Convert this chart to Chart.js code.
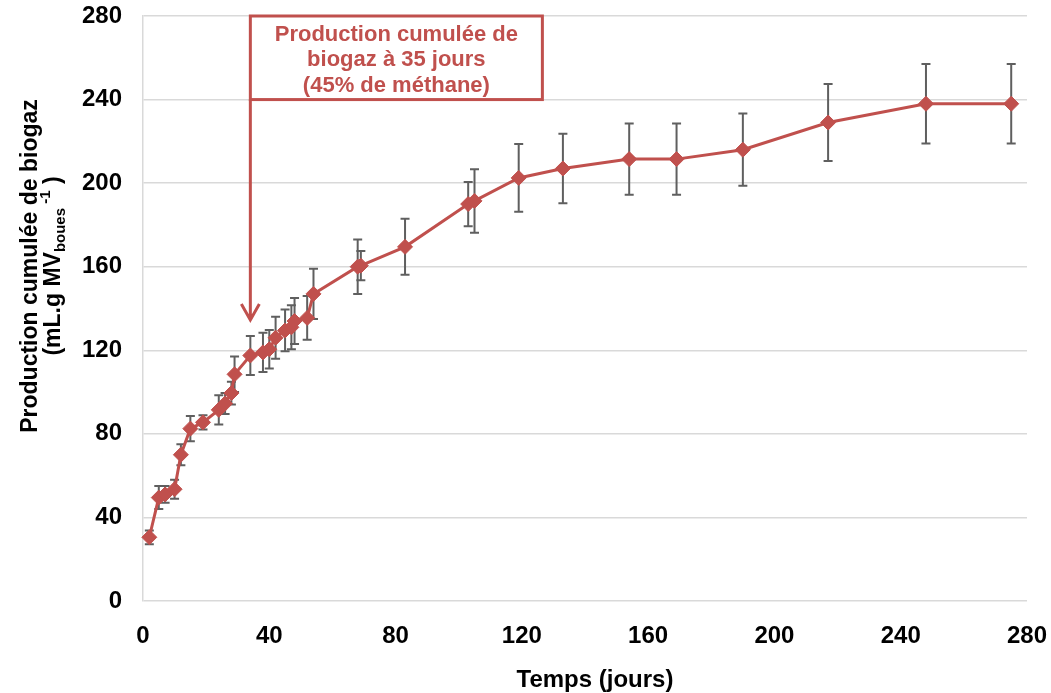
<!DOCTYPE html>
<html>
<head>
<meta charset="utf-8">
<script src="https://cdn.jsdelivr.net/npm/chart.js@4.4.1/dist/chart.umd.min.js"></script>
<style>
html,body{margin:0;padding:0;background:#fff;}
</style>
</head>
<body>
<canvas id="biogazChart" width="1051" height="693"></canvas>
<script>
// jours de mesure, production cumulée (mL/g MV) et écart-type
const days   = [2, 5, 7, 10, 12, 15, 19, 24, 26, 28, 29, 34, 38, 40, 42, 45, 47, 48, 52, 54, 68, 69, 83, 103, 105, 119, 133, 154, 169, 190, 217, 248, 275];
const biogaz = [30.5, 49.5, 51, 53.5, 70, 82.5, 85.5, 91.5, 94.5, 99.5, 108.5, 117.5, 119, 120.5, 126, 129.5, 131, 134, 135.5, 147, 160, 160.5, 169.5, 190, 191.5, 202.5, 207, 211.5, 211.5, 216, 229, 238, 238];
const ecart  = [3.3, 5.5, 4, 4.5, 5, 6, 3.4, 7, 5, 5.5, 8.5, 9.3, 9.4, 9.2, 10, 10, 10.5, 11, 10.5, 12, 13, 7, 13.4, 10.6, 15.2, 16.2, 16.6, 17, 17, 17.3, 18.4, 19, 19];

const xTicks = [0, 40, 80, 120, 160, 200, 240, 280];
const yTicks = [0, 40, 80, 120, 160, 200, 240, 280];

// encadré : jour 35
const noteLines = ["Production cumulée de", "biogaz à 35 jours", "(45% de méthane)"];
const noteBox = {left: 34, right: 126.5, top: 280, bottom: 240, arrowTo: 134.5};

const RED = "#c0504d";
const FONT = "'Liberation Sans', Arial, sans-serif";

const errorBars = {
    id: "errorBars",
    beforeDatasetsDraw(chart){
        const {ctx, scales:{x, y}} = chart;
        ctx.save();
        ctx.strokeStyle = "#5f5f5f";
        ctx.lineWidth = 2;
        days.forEach((d,i)=>{
            const px = x.getPixelForValue(d);
            const top = y.getPixelForValue(biogaz[i] + ecart[i]);
            const bot = y.getPixelForValue(biogaz[i] - ecart[i]);
            ctx.beginPath();
            ctx.moveTo(px, top); ctx.lineTo(px, bot);
            ctx.moveTo(px - 4.5, top); ctx.lineTo(px + 4.5, top);
            ctx.moveTo(px - 4.5, bot); ctx.lineTo(px + 4.5, bot);
            ctx.stroke();
        });
        ctx.restore();
    }
};

const note = {
    id: "note",
    afterDatasetsDraw(chart){
        const {ctx, scales:{x, y}} = chart;
        const l = x.getPixelForValue(noteBox.left), r = x.getPixelForValue(noteBox.right);
        const t = y.getPixelForValue(noteBox.top), b = y.getPixelForValue(noteBox.bottom);
        const tip = y.getPixelForValue(noteBox.arrowTo);
        ctx.save();
        ctx.fillStyle = "#fff";
        ctx.fillRect(l, t, r - l, b - t);
        ctx.strokeStyle = RED;
        ctx.lineWidth = 3;
        ctx.strokeRect(l, t, r - l, b - t);
        // flèche
        ctx.beginPath();
        ctx.moveTo(l, b); ctx.lineTo(l, tip);
        ctx.moveTo(l - 9, tip - 16); ctx.lineTo(l, tip); ctx.lineTo(l + 9, tip - 16);
        ctx.stroke();
        ctx.fillStyle = RED;
        ctx.font = "bold 22px " + FONT;
        ctx.textAlign = "center";
        ctx.textBaseline = "alphabetic";
        noteLines.forEach((s,i)=> ctx.fillText(s, (l + r) / 2, t + 24.5 + i * 25.5));
        ctx.restore();
    }
};

const axisTitles = {
    id: "axisTitles",
    afterDraw(chart){
        const {ctx} = chart;
        ctx.save();
        ctx.fillStyle = "#000";
        ctx.textBaseline = "alphabetic";
        ctx.font = "bold 24px " + FONT;
        ctx.textAlign = "center";
        ctx.fillText("Temps (jours)", 595, 687);

        const cy = 266;
        ctx.font = "bold 23px " + FONT;
        ctx.translate(37, cy);
        ctx.rotate(-Math.PI / 2);
        ctx.fillText("Production cumulée de biogaz", 0, 0);
        ctx.restore();

        // deuxième ligne avec indice et exposant
        const parts = [
            {t: "(mL.g MV", f: "bold 23px ", dy: 0},
            {t: "boues", f: "bold 15px ", dy: 5},
            {t: " -1", f: "bold 15px ", dy: -10},
            {t: " )", f: "bold 23px ", dy: 0}
        ];
        ctx.save();
        ctx.fillStyle = "#000";
        ctx.textBaseline = "alphabetic";
        ctx.textAlign = "left";
        let total = 0;
        parts.forEach(p=>{ ctx.font = p.f + FONT; p.w = ctx.measureText(p.t).width; total += p.w; });
        ctx.translate(60, cy);
        ctx.rotate(-Math.PI / 2);
        let pos = -total / 2;
        parts.forEach(p=>{
            ctx.font = p.f + FONT;
            ctx.fillText(p.t, pos, p.dy);
            pos += p.w;
        });
        ctx.restore();
    }
};

const tickFont = {family: FONT, size: 24, weight: "bold"};

new Chart(document.getElementById("biogazChart"), {
    type: "line",
    data: {
        datasets: [{
            data: days.map((d,i)=>({x: d, y: biogaz[i]})),
            borderColor: RED,
            borderWidth: 3,
            backgroundColor: RED,
            pointStyle: "rectRot",
            pointRadius: 7.5,
            pointHoverRadius: 7.5,
            pointBackgroundColor: RED,
            pointBorderColor: RED,
            pointBorderWidth: 1,
            tension: 0,
            clip: false
        }]
    },
    options: {
        responsive: false,
        animation: false,
        devicePixelRatio: 1,
        layout: {padding: {top: 16, right: 24, left: 0, bottom: 0}},
        plugins: {legend: {display: false}, tooltip: {enabled: false}},
        scales: {
            x: {
                type: "linear", min: 0, max: 280,
                afterBuildTicks: s => { s.ticks = xTicks.map(v=>({value: v})); },
                afterFit: s => { s.height = 92; s.paddingLeft = 0; s.paddingRight = 0; },
                grid: {display: false, drawTicks: false},
                border: {display: false},
                ticks: {font: tickFont, color: "#000", padding: 21, maxRotation: 0}
            },
            y: {
                type: "linear", min: 0, max: 280,
                afterBuildTicks: s => { s.ticks = yTicks.map(v=>({value: v})); },
                afterFit: s => { s.width = 143; s.paddingTop = 0; s.paddingBottom = 0; },
                grid: {color: "#d9d9d9", lineWidth: 1.5, drawTicks: false},
                border: {display: true, color: "#d9d9d9", width: 1.5},
                ticks: {font: tickFont, color: "#000", padding: 21}
            }
        }
    },
    plugins: [errorBars, note, axisTitles]
});
</script>
</body>
</html>
